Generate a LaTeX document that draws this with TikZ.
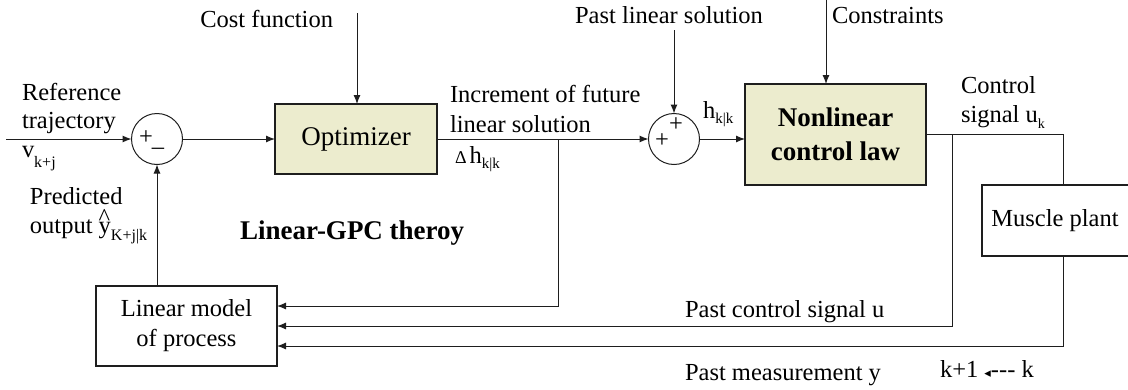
\documentclass[tikz,border=0pt]{standalone}
\usepackage{fontspec}
\setmainfont{Liberation Serif}
\newfontfamily\dejavu{DejaVu Sans}
\usetikzlibrary{arrows.meta}
\definecolor{boxfill}{RGB}{236,236,206}
\definecolor{ink}{RGB}{30,30,30}
\begin{document}
\begin{tikzpicture}[x=1pt,y=-1pt,
  every node/.style={inner sep=0pt,outer sep=0pt,text=black},
  lbl/.style={font=\fontsize{24.5}{29}\selectfont},
  blk/.style={draw=ink,line width=1.2pt,fill=boxfill,font=\fontsize{27}{34}\selectfont,align=center},
  wblk/.style={draw=ink,line width=1.2pt,fill=white,font=\fontsize{24.5}{30}\selectfont,align=center},
  sumc/.style={circle,draw=ink,line width=1pt,minimum size=51pt,fill=white},
  conn/.style={draw=ink,line width=1pt,-{Latex[length=9pt,width=7pt]}},
  wire/.style={draw=ink,line width=1pt},
]
\useasboundingbox (0,0) rectangle (1128,389);

% blocks
\node[sumc] (s1) at (157,139) {};
\node[lbl] (p1) at (146,138) {+};
\node[lbl] (m1) at (158,151) {–};
\node[blk,minimum width=162pt,minimum height=70pt] (opt) at (356,139) {Optimizer};
\node[sumc] (s2) at (674,139) {};
\node[lbl] (p2a) at (676,125) {+};
\node[lbl] (p2b) at (662,141) {+};
\node[blk,font=\bfseries\fontsize{27}{34}\selectfont,minimum width=181pt,minimum height=101pt] (nl) at (835.5,134.5) {Nonlinear\\control law};
\node[wblk,minimum width=181pt,minimum height=80pt] (lm) at (186.5,326) {Linear model\\of process};
\node[lbl,minimum width=146pt,minimum height=71pt] (mp) at (1055,220.5) {Muscle plant};
\draw[wire,line width=1.2pt] (mp.north east) -- (mp.north west) -- (mp.south west) -- (mp.south east);

% helper coordinates
\coordinate (in) at (6,139);
\coordinate (cf) at (357,13);
\coordinate (pl) at (674,30);
\coordinate (cs) at (826,0);
\coordinate (b1) at (558,139);
\coordinate (b2) at (952,134.5);
\coordinate (mpin) at (1063,134.5);
\coordinate (l1) at ([yshift=20pt]lm.east);
\coordinate (l3) at ([yshift=-20pt]lm.east);

% connectors
\draw[conn] (in) -- (s1);
\draw[conn] (s1) -- (opt);
\draw[conn] (cf) -- (cf |- opt.north);
\draw[conn] (opt) -- (s2);
\draw[conn] (pl) -- (s2);
\draw[conn] (s2) -- (s2 -| nl.west);
\draw[conn] (cs) -- (cs |- nl.north);
\draw[wire] (nl.east) -- (mpin) -- (mpin |- mp.north);
\draw[conn] (b1) -- (b1 |- l1) -- (l1);
\draw[conn] (b2) -- (b2 |- lm.east) -- (lm.east);
\draw[conn] (mp.south -| mpin) -- (mpin |- l3) -- (l3);
\draw[conn] (lm.north -| s1) -- (s1);

% labels
\node[lbl,anchor=base east] (tcf) at (333,27) {Cost function};
\node[lbl,anchor=base] (tpl) at (669,23) {Past linear solution};
\node[lbl,anchor=base west] (tcs) at (832,23) {Constraints};
\node[lbl,anchor=base west] (tref1) at (22,100) {Reference};
\node[lbl,anchor=base west] (tref2) at (22,128) {trajectory};
\node[lbl,anchor=base west] (tv) at (22,157) {v\raisebox{-10pt}{\fontsize{16}{16}\selectfont k+j}};
\node[lbl,anchor=base west] (tpr1) at (30,204) {Predicted};
\node[lbl,anchor=base west] (tpr2) at (30,233) {output \makebox[0pt][l]{\raisebox{8pt}{\textasciicircum}}y\raisebox{-7pt}{\fontsize{16}{16}\selectfont K+j|k}};
\node[lbl,anchor=base west] (tinc1) at (450,102) {Increment of future};
\node[lbl,anchor=base west] (tinc2) at (450,132) {linear solution};
\node[lbl,anchor=base west] (tdh) at (455,163) {{\fontsize{18}{18}\selectfont Δ}\hspace{3pt}h\raisebox{-5pt}{\fontsize{15}{15}\selectfont k|k}};
\node[lbl,anchor=base west] (th) at (703,118) {h\raisebox{-5pt}{\fontsize{15}{15}\selectfont k|k}};
\node[lbl,anchor=base west] (tcs1) at (961,93) {Control};
\node[lbl,anchor=base west] (tcs2) at (961,122) {signal u\raisebox{-6pt}{\fontsize{14}{14}\selectfont k}};
\node[lbl,anchor=base west,font=\bfseries\fontsize{27}{32}\selectfont] (tgpc) at (240,239) {Linear-GPC theroy};
\node[lbl,anchor=base west] (tpcu) at (685,317) {Past control signal u};
\node[lbl,anchor=base west] (tpmy) at (685,380) {Past measurement y};
\node[lbl,anchor=base west] (tk) at (940,377) {k+1 {\dejavu\fontsize{13}{13}\selectfont ◂}-{}-{}- k};
\end{tikzpicture}
\end{document}
